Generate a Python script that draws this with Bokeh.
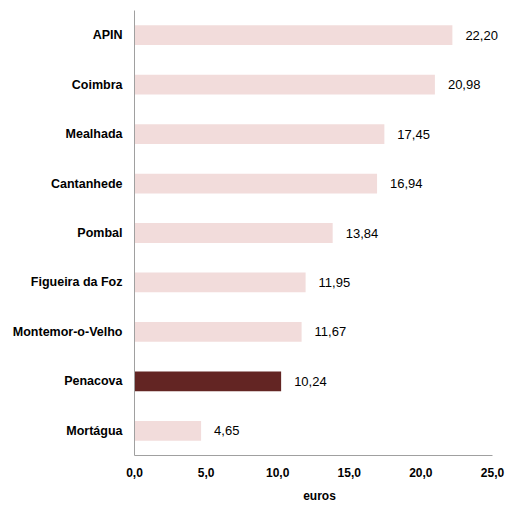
from bokeh.plotting import figure
from bokeh.models import FixedTicker, Range1d, ColumnDataSource, LabelSet
from bokeh.core.properties import value
from bokeh.embed import file_html
from bokeh.resources import INLINE

categories = ["APIN", "Coimbra", "Mealhada", "Cantanhede", "Pombal",
              "Figueira da Foz", "Montemor-o-Velho", "Penacova", "Mortágua"]
values = [22.20, 20.98, 17.45, 16.94, 13.84, 11.95, 11.67, 10.24, 4.65]
highlight = "Penacova"
tick_values = [0, 5, 10, 15, 20, 25]
x_label = "euros"

FONT = "Liberation Sans"
light = "#f2dcdb"
dark = "#632523"

colors = [dark if c == highlight else light for c in categories]
labels = [f"{v:.2f}".replace(".", ",") for v in values]

src = ColumnDataSource(dict(cat=categories, val=values, col=colors, lab=labels))

p = figure(width=506, height=505, output_backend="svg", toolbar_location=None,
           y_range=list(reversed(categories)), x_range=Range1d(0, 25.84),
           min_border_left=134, min_border_right=2, min_border_top=10,
           min_border_bottom=50)

p.hbar(y="cat", right="val", left=0, height=0.4, fill_color="col",
       line_color=None, source=src)
p.add_layout(LabelSet(x="val", y="cat", text="lab", x_offset=13, source=src,
                      text_align="left", text_baseline="middle",
                      text_font=value(FONT), text_font_size=value("13px"),
                      text_color=value("#000000")))

p.xgrid.visible = False
p.ygrid.visible = False
p.outline_line_color = None

p.xaxis.bounds = (0, 25)
p.xaxis.ticker = FixedTicker(ticks=tick_values)
p.xaxis.major_label_overrides = {t: f"{t:.1f}".replace(".", ",") for t in tick_values}
p.xaxis.major_tick_line_color = None
p.xaxis.minor_tick_line_color = None
p.xaxis.major_tick_in = 0
p.xaxis.major_tick_out = 0
p.xaxis.axis_line_color = "#a0a0a0"
p.xaxis.major_label_text_font = FONT
p.xaxis.major_label_text_font_style = "bold"
p.xaxis.major_label_text_font_size = "12px"
p.xaxis.major_label_text_color = "#000000"
p.xaxis.major_label_standoff = 12
p.xaxis.axis_label = x_label
p.xaxis.axis_label_text_font = FONT
p.xaxis.axis_label_text_font_style = "bold"
p.xaxis.axis_label_text_font_size = "12px"
p.xaxis.axis_label_text_color = "#000000"
p.xaxis.axis_label_standoff = 9

p.yaxis.major_tick_line_color = None
p.yaxis.minor_tick_line_color = None
p.yaxis.major_tick_in = 0
p.yaxis.major_tick_out = 0
p.yaxis.axis_line_color = "#a0a0a0"
p.yaxis.major_label_text_font = FONT
p.yaxis.major_label_text_font_style = "bold"
p.yaxis.major_label_text_font_size = "12.5px"
p.yaxis.major_label_text_color = "#000000"
p.yaxis.major_label_standoff = 12

open("out.html", "w").write(file_html(p, INLINE))
